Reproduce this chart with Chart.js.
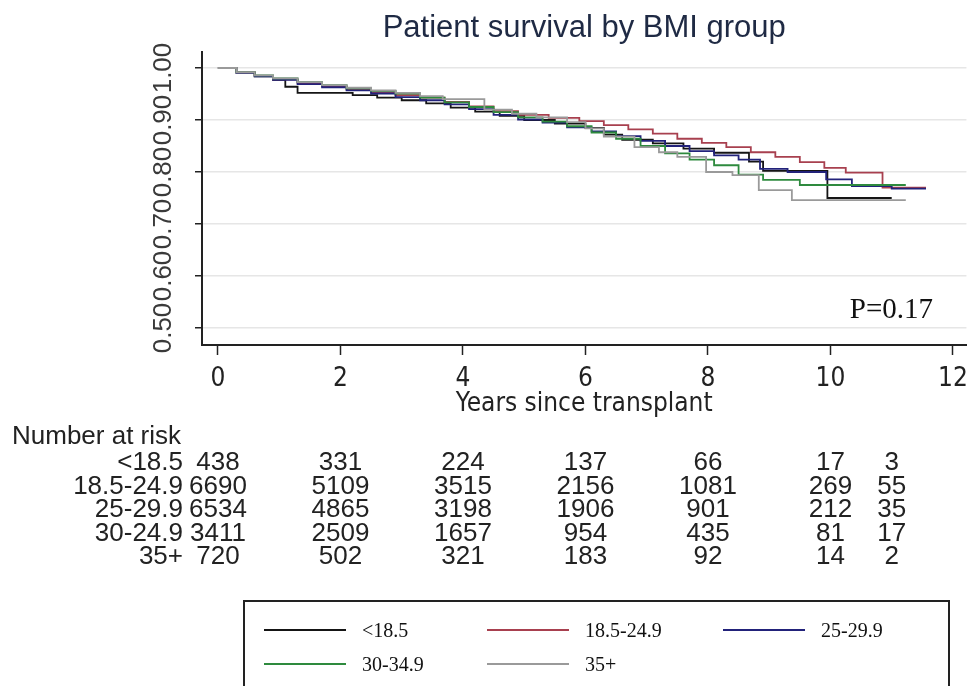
<!DOCTYPE html>
<html>
<head>
  <title>Patient survival by BMI group</title>
  <script src="https://cdn.jsdelivr.net/npm/chart.js"></script>
  <style>
    body{
        margin:0px;
        padding:0px;
        background-color:#fff;
    }
    #wrap{
        position:relative;
        width:977px;
        height:686px;
        overflow:hidden;
    }
    #legend{
        position:absolute;
        left:243px;
        top:600px;
        width:703px;
        height:120px;
        border:2px solid #222;
        font-family:"Liberation Serif", serif;
        font-size:20px;
        color:#111;
    }
    #legend .item{
        position:absolute;
        display:flex;
        align-items:center;
        height:22px;
    }
    #legend .ln{
        display:inline-block;
        width:82px;
        height:0px;
        border-top:2px solid;
        margin-right:16px;
    }
  </style>
</head>
<body>
<div id="wrap">
  <canvas id="chart" width="977" height="686"></canvas>
  <div id="legend"></div>
</div>
<script>
    // survival step data (time in years, survival after step)
    var tUnder = [0, 0.3, 0.6, 0.9, 1.1, 1.3, 2.2, 2.6, 3.0, 3.4, 3.8, 4.2, 4.6, 5.0, 5.5, 6.0, 6.3, 6.6, 7.1, 7.6, 8.1, 8.67, 8.9, 9.95, 11.0];
    var sUnder = [1, .991, .984, .977, .964, .952, .948, .943, .938, .932, .924, .916, .908, .900, .893, .885, .872, .862, .855, .845, .837, .820, .802, .750, .750];

    var tNormal = [0, 0.3, 0.6, 0.9, 1.3, 1.7, 2.1, 2.5, 2.9, 3.3, 3.7, 4.1, 4.5, 4.9, 5.4, 5.9, 6.3, 6.7, 7.1, 7.5, 7.9, 8.3, 8.7, 9.1, 9.5, 9.9, 10.25, 10.85, 11.56];
    var sNormal = [1, .992, .985, .978, .971, .965, .959, .953, .948, .943, .935, .926, .917, .910, .904, .898, .890, .882, .874, .864, .856, .848, .838, .829, .819, .808, .799, .770, .770];

    var tOver = [0, 0.3, 0.6, 0.9, 1.3, 1.7, 2.1, 2.5, 2.9, 3.3, 3.7, 4.1, 4.5, 4.9, 5.3, 5.7, 6.1, 6.5, 6.9, 7.3, 7.7, 8.1, 8.5, 8.85, 9.3, 9.93, 10.35, 11.0, 11.56];
    var sOver = [1, .991, .984, .977, .969, .963, .957, .951, .944, .938, .930, .921, .910, .901, .895, .886, .878, .869, .860, .850, .840, .832, .824, .806, .800, .786, .773, .768, .768];

    var tObese = [0, 0.3, 0.6, 0.9, 1.3, 1.7, 2.1, 2.5, 2.9, 3.3, 3.7, 4.1, 4.5, 4.9, 5.3, 5.7, 6.1, 6.5, 6.9, 7.3, 7.7, 8.1, 8.5, 8.9, 9.5, 11.23];
    var sObese = [1, .992, .986, .980, .973, .967, .961, .956, .951, .943, .934, .925, .915, .905, .897, .888, .876, .864, .850, .836, .824, .813, .795, .785, .775, .775];

    var tMorbid = [0, 0.3, 0.6, 0.9, 1.3, 1.7, 2.1, 2.5, 2.9, 3.3, 3.67, 4.35, 4.8, 5.2, 5.7, 6.0, 6.3, 6.8, 7.2, 7.5, 7.97, 8.4, 8.83, 9.37, 11.23];
    var sMorbid = [1, .992, .986, .980, .973, .967, .962, .957, .952, .946, .940, .920, .912, .905, .896, .884, .868, .848, .838, .829, .800, .794, .765, .746, .746];

    var groupNames = ['<18.5', '18.5-24.9', '25-29.9', '30-34.9', '35+'];
    var groupColors = ['#151515', '#a8404f', '#22227a', '#2e8a3e', '#9a9a9a'];

    // number at risk table
    var riskLabels = ['<18.5', '18.5-24.9', '25-29.9', '30-24.9', '35+'];
    var riskTimes = [0, 2, 4, 6, 8, 10, 11];
    var riskUnder = [438, 331, 224, 137, 66, 17, 3];
    var riskNormal = [6690, 5109, 3515, 2156, 1081, 269, 55];
    var riskOver = [6534, 4865, 3198, 1906, 901, 212, 35];
    var riskObese = [3411, 2509, 1657, 954, 435, 81, 17];
    var riskMorbid = [720, 502, 321, 183, 92, 14, 2];

    var xTicks = [0, 2, 4, 6, 8, 10, 12];
    var yTicks = [0.5, 0.6, 0.7, 0.8, 0.9, 1.0];

    var times = [tUnder, tNormal, tOver, tObese, tMorbid];
    var surv = [sUnder, sNormal, sOver, sObese, sMorbid];
    var riskRows = [riskUnder, riskNormal, riskOver, riskObese, riskMorbid];

    var narrow = '"DejaVu Sans Condensed", "Liberation Sans", Arial, sans-serif';

    function toPoints(t, s){
      return t.map(function(v, i){ return {x: v, y: s[i]}; });
    }

    var datasets = groupNames.map(function(name, i){
      return {
        label: name,
        data: toPoints(times[i], surv[i]),
        stepped: true,
        borderColor: groupColors[i],
        backgroundColor: groupColors[i],
        borderWidth: 1.8,
        pointRadius: 0,
        fill: false,
        order: 5 - i
      };
    });

    // title, rotated y labels, P value and the risk table
    var extras = {
      id: 'extras',
      afterDraw: function(chart){
        var ctx = chart.ctx, xs = chart.scales.x, ys = chart.scales.y, a = chart.chartArea;
        ctx.save();
        ctx.textBaseline = 'middle';
        ctx.textAlign = 'center';
        ctx.fillStyle = '#1f2a44';
        ctx.font = '31px "Liberation Sans", Arial, sans-serif';
        ctx.fillText('Patient survival by BMI group', (a.left + a.right) / 2, 28);

        ctx.fillStyle = '#3a3a3a';
        ctx.font = '26px "Liberation Sans", Arial, sans-serif';
        yTicks.forEach(function(v){
          ctx.save();
          ctx.translate(164, ys.getPixelForValue(v));
          ctx.rotate(-Math.PI / 2);
          ctx.fillText(v.toFixed(2), 0, 0);
          ctx.restore();
        });

        ctx.fillStyle = '#111';
        ctx.textAlign = 'right';
        ctx.font = '29px "Liberation Serif", serif';
        ctx.fillText('P=0.17', 933, 310);

        ctx.fillStyle = '#222';
        ctx.font = '26px "Liberation Sans", Arial, sans-serif';
        ctx.textAlign = 'left';
        ctx.fillText('Number at risk', 12, 437);
        riskRows.forEach(function(row, i){
          var ry = 463 + i * 23.5;
          ctx.textAlign = 'right';
          ctx.fillText(riskLabels[i], 183, ry);
          ctx.textAlign = 'center';
          row.forEach(function(n, j){
            ctx.fillText(String(n), xs.getPixelForValue(riskTimes[j]), ry);
          });
        });
        ctx.restore();
      }
    };

    var ctx = document.getElementById('chart').getContext('2d');
    var chart = new Chart(ctx, {
      type: 'line',
      data: { datasets: datasets },
      options: {
        responsive: false,
        animation: false,
        layout: { padding: { top: 52, right: 9, bottom: 266, left: 0 } },
        plugins: {
          legend: { display: false },
          title: { display: false },
          tooltip: { enabled: false }
        },
        scales: {
          x: {
            type: 'linear',
            min: -0.26,
            max: 12.22,
            afterBuildTicks: function(s){ s.ticks = xTicks.map(function(v){ return {value: v}; }); },
            afterFit: function(s){ s.height = 75; },
            grid: { drawOnChartArea: false, tickLength: 10, tickColor: '#222', tickWidth: 1.5 },
            border: { color: '#222', width: 2 },
            ticks: {
              color: '#222',
              padding: 9,
              maxRotation: 0,
              font: { family: narrow, size: 26 }
            },
            title: {
              display: true,
              text: 'Years since transplant',
              color: '#222',
              padding: { top: 0, bottom: 0 },
              font: { family: narrow, size: 26 }
            }
          },
          y: {
            min: 0.4673,
            max: 1.0308,
            afterBuildTicks: function(s){ s.ticks = yTicks.map(function(v){ return {value: v}; }); },
            afterFit: function(s){ s.width = 202; },
            grid: { color: '#e6e6e6', lineWidth: 1.5, tickLength: 7, tickColor: '#222', tickWidth: 1.5 },
            border: { color: '#222', width: 2 },
            ticks: { display: false }
          }
        }
      },
      plugins: [extras]
    });

    // legend box built from the group names and colours
    var legendPos = [[19, 17], [242, 17], [478, 17], [19, 51], [242, 51]];
    var legend = document.getElementById('legend');
    groupNames.forEach(function(name, i){
      var item = document.createElement('div');
      item.className = 'item';
      item.style.left = legendPos[i][0] + 'px';
      item.style.top = legendPos[i][1] + 'px';
      var ln = document.createElement('span');
      ln.className = 'ln';
      ln.style.borderTopColor = groupColors[i];
      var tx = document.createElement('span');
      tx.textContent = name;
      item.appendChild(ln);
      item.appendChild(tx);
      legend.appendChild(item);
    });
</script>
</body>
</html>
